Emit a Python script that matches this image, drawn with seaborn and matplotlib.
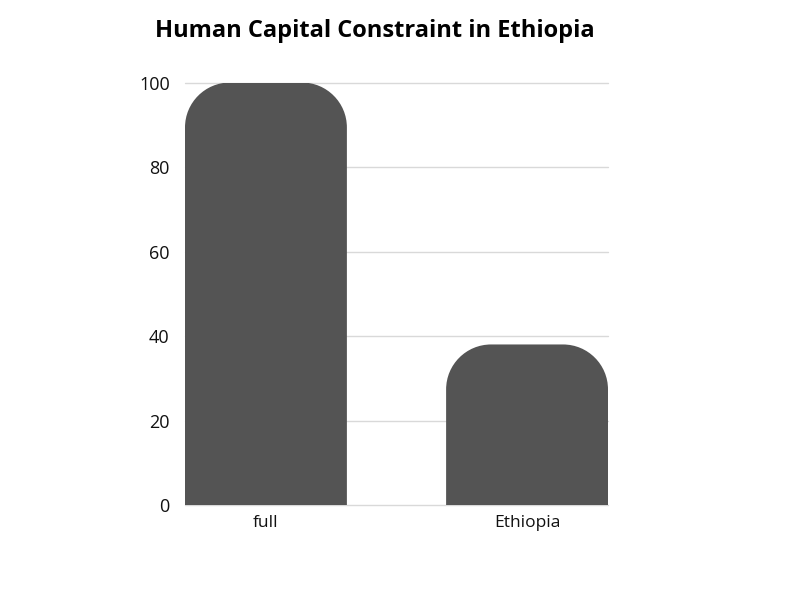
import numpy as np
import pandas as pd
from matplotlib import pyplot as plt
from matplotlib.path import Path
from matplotlib.patches import PathPatch
import seaborn as sb

"""DATA"""
categories = ["full", "Ethiopia"]
values = [100, 38]
y_ticks = [0, 20, 40, 60, 80, 100]

df = pd.DataFrame({"country": categories, "value": values})

"""PLOT"""
sb.set_style("white")
plt.rcParams["font.family"] = ["Open Sans", "DejaVu Sans"]

fig = plt.figure(figsize=(8, 6), dpi=100)
ax = fig.add_axes([0.23125, 0.1583, 0.52875, 0.7042])

bar_color = "#545454"
sb.barplot(x="country", y="value", data=df, color=bar_color, width=0.62,
           saturation=1, ax=ax, zorder=3)

ax.set_xlim(-0.31, 1.31)
ax.set_ylim(0, 100)


def rounded_top(x0, x1, y1, rx, ry):
    # bar outline with rounded top corners (quarter ellipses), flat bottom
    k = 0.5523
    verts = [(x0, 0), (x0, y1 - ry),
             (x0, y1 - ry + k * ry), (x0 + rx - k * rx, y1), (x0 + rx, y1),
             (x1 - rx, y1),
             (x1 - rx + k * rx, y1), (x1, y1 - ry + k * ry), (x1, y1 - ry),
             (x1, 0), (x0, 0)]
    codes = [Path.MOVETO, Path.LINETO,
             Path.CURVE4, Path.CURVE4, Path.CURVE4,
             Path.LINETO,
             Path.CURVE4, Path.CURVE4, Path.CURVE4,
             Path.LINETO, Path.CLOSEPOLY]
    return Path(verts, codes)


# swap the square bars for rounded ones
px_x = 423 / 1.62
px_y = 423 / 100
for p in list(ax.patches):
    x0 = p.get_x()
    x1 = x0 + p.get_width()
    h = p.get_height()
    r = 45
    p.set_visible(False)
    ax.add_patch(PathPatch(rounded_top(x0, x1, h, r / px_x, r / px_y),
                           facecolor=bar_color, edgecolor="none", zorder=3))

ax.set_yticks(y_ticks)
ax.yaxis.grid(True, color="#d9d9d9", linewidth=1, zorder=0)
ax.set_axisbelow(True)
for gl in ax.get_ygridlines():
    gl.set_clip_on(False)
for s in ax.spines.values():
    s.set_visible(False)

ax.tick_params(axis="y", length=0, pad=11, labelsize=13, labelcolor="#111111")
ax.tick_params(axis="x", length=0, pad=7, labelsize=12.5, labelcolor="#111111")
ax.set_xlabel("")
ax.set_ylabel("")

fig.text(0.469, 0.948, "Human Capital Constraint in Ethiopia", ha="center",
         va="center", fontsize=17, fontweight="bold", color="#000000")

plt.savefig("out.png", dpi=100)
plt.close()
